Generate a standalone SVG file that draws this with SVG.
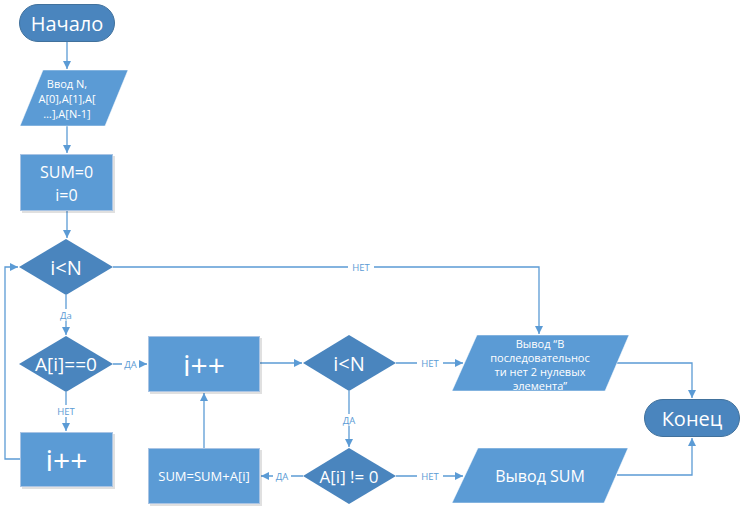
<svg xmlns="http://www.w3.org/2000/svg" width="745" height="513" viewBox="0 0 745 513">
  <style>
    .term { fill: #4A85BE; stroke: #41719C; stroke-width: 1; }
    .proc { fill: #5B9BD5; stroke: #A9C4E4; stroke-width: 1; }
    .dec { fill: #4A85BE; stroke: none; }
    .io { fill: #5B9BD5; stroke: #FFFFFF; stroke-width: 0.5; }
    .shadow { fill: #000; opacity: 0.12; }
    text { font-family: "Open Sans", "Noto Sans", "DejaVu Sans", sans-serif; fill: #FFFFFF; text-anchor: middle; dominant-baseline: central; }
    .conn { fill: none; stroke: #5B9BD5; stroke-width: 1.3; }
    .lbl { font-size: 9.5px; fill: #5B9BD5; }
    .lblbg { fill: #FFFFFF; }
  </style>
  <defs>
    <marker id="arr" viewBox="0 0 10 10" refX="10" refY="5" markerWidth="8" markerHeight="8" markerUnits="userSpaceOnUse" orient="auto">
      <path d="M0,0 L10,5 L0,10 z" fill="#5B9BD5"/>
    </marker>
  </defs>

  <!-- connectors -->
  <g id="connectors">
    <path class="conn" d="M67,42 V69" marker-end="url(#arr)"/>
    <path class="conn" d="M67,126 V153" marker-end="url(#arr)"/>
    <path class="conn" d="M67,211 V238" marker-end="url(#arr)"/>
    <path class="conn" d="M113,267 H539 V334" marker-end="url(#arr)"/>
    <path class="conn" d="M66,295 V335" marker-end="url(#arr)"/>
    <path class="conn" d="M113,364 H147" marker-end="url(#arr)"/>
    <path class="conn" d="M66,392 V431" marker-end="url(#arr)"/>
    <path class="conn" d="M20,459 H5 V267 H18" marker-end="url(#arr)"/>
    <path class="conn" d="M260,363 H302" marker-end="url(#arr)"/>
    <path class="conn" d="M396,363 H463" marker-end="url(#arr)"/>
    <path class="conn" d="M349,391 V447" marker-end="url(#arr)"/>
    <path class="conn" d="M303,476 H261" marker-end="url(#arr)"/>
    <path class="conn" d="M204,448 V393" marker-end="url(#arr)"/>
    <path class="conn" d="M396,476 H463" marker-end="url(#arr)"/>
    <path class="conn" d="M617,363 H692 V398" marker-end="url(#arr)"/>
    <path class="conn" d="M617,475 H692 V438" marker-end="url(#arr)"/>
    <!-- connector labels -->
    <rect class="lblbg" x="348" y="261" width="26" height="12"/>
    <text class="lbl" x="361" y="267">НЕТ</text>
    <rect class="lblbg" x="57" y="309" width="18" height="12"/>
    <text class="lbl" x="66" y="315">Да</text>
    <rect class="lblbg" x="122" y="358" width="17" height="12"/>
    <text class="lbl" x="130.5" y="364">ДА</text>
    <rect class="lblbg" x="53" y="405" width="26" height="12"/>
    <text class="lbl" x="66" y="411">НЕТ</text>
    <rect class="lblbg" x="417" y="357" width="26" height="12"/>
    <text class="lbl" x="430" y="363">НЕТ</text>
    <rect class="lblbg" x="340" y="414" width="18" height="12"/>
    <text class="lbl" x="349" y="420">ДА</text>
    <rect class="lblbg" x="273" y="470" width="18" height="12"/>
    <text class="lbl" x="282" y="476">ДА</text>
    <rect class="lblbg" x="417" y="470" width="26" height="12"/>
    <text class="lbl" x="430" y="476">НЕТ</text>
  </g>

  <g id="start">
    <rect class="term" x="19.5" y="4.5" width="95" height="37" rx="18.5"/>
    <text x="67" y="23" font-size="20">Начало</text>
  </g>

  <g id="input">
    <polygon class="io" points="43,70 128,70 105,126 20,126"/>
    <text x="67" y="83" font-size="11">Ввод N,</text>
    <text x="67" y="98" font-size="11">A[0],A[1],A[</text>
    <text x="67" y="113" font-size="11">…],A[N-1]</text>
  </g>

  <g id="init">
    <rect class="shadow" x="22" y="156" width="93" height="57"/>
    <rect class="proc" x="20.5" y="154.5" width="92" height="56"/>
    <text x="66.5" y="172" font-size="16">SUM=0</text>
    <text x="66.5" y="195" font-size="16">i=0</text>
  </g>

  <g id="cond1">
    <polygon class="dec" points="66,239 113,267 66,295 19,267"/>
    <text x="66" y="267" font-size="20">i&lt;N</text>
  </g>

  <g id="cond2">
    <polygon class="dec" points="66,336 113,364 66,392 19,364"/>
    <text x="66" y="364" font-size="19">A[i]==0</text>
  </g>

  <g id="inc1">
    <rect class="shadow" x="22" y="434" width="93" height="55"/>
    <rect class="proc" x="20.5" y="432.5" width="92" height="54"/>
    <text x="66.5" y="459" font-size="30">i++</text>
  </g>

  <g id="inc2">
    <rect class="shadow" x="150" y="338" width="112" height="56"/>
    <rect class="proc" x="148.5" y="336.5" width="111" height="55"/>
    <text x="204" y="364" font-size="30">i++</text>
  </g>

  <g id="cond3">
    <polygon class="dec" points="349,335 396,363 349,391 303,363"/>
    <text x="349" y="363" font-size="20">i&lt;N</text>
  </g>

  <g id="cond4">
    <polygon class="dec" points="349,448 396,476 349,504 303,476"/>
    <text x="349" y="476" font-size="17">A[i] != 0</text>
  </g>

  <g id="sum">
    <rect class="shadow" x="150" y="450" width="112" height="56"/>
    <rect class="proc" x="148.5" y="448.5" width="111" height="55"/>
    <text x="204" y="476" font-size="13">SUM=SUM+A[i]</text>
  </g>

  <g id="out1">
    <polygon class="io" points="477,335 629,335 605,391 452,391"/>
    <text x="540" y="343" font-size="11">Вывод “В</text>
    <text x="540" y="357" font-size="11">последовательнос</text>
    <text x="540" y="371" font-size="11">ти нет 2 нулевых</text>
    <text x="540" y="385" font-size="11">элемента”</text>
  </g>

  <g id="out2">
    <polygon class="io" points="478,448 628,448 604,503 452,503"/>
    <text x="540" y="476" font-size="16">Вывод SUM</text>
  </g>

  <g id="end">
    <rect class="term" x="644.5" y="399.5" width="95" height="37" rx="18.5"/>
    <text x="692" y="418" font-size="20">Конец</text>
  </g>
</svg>
